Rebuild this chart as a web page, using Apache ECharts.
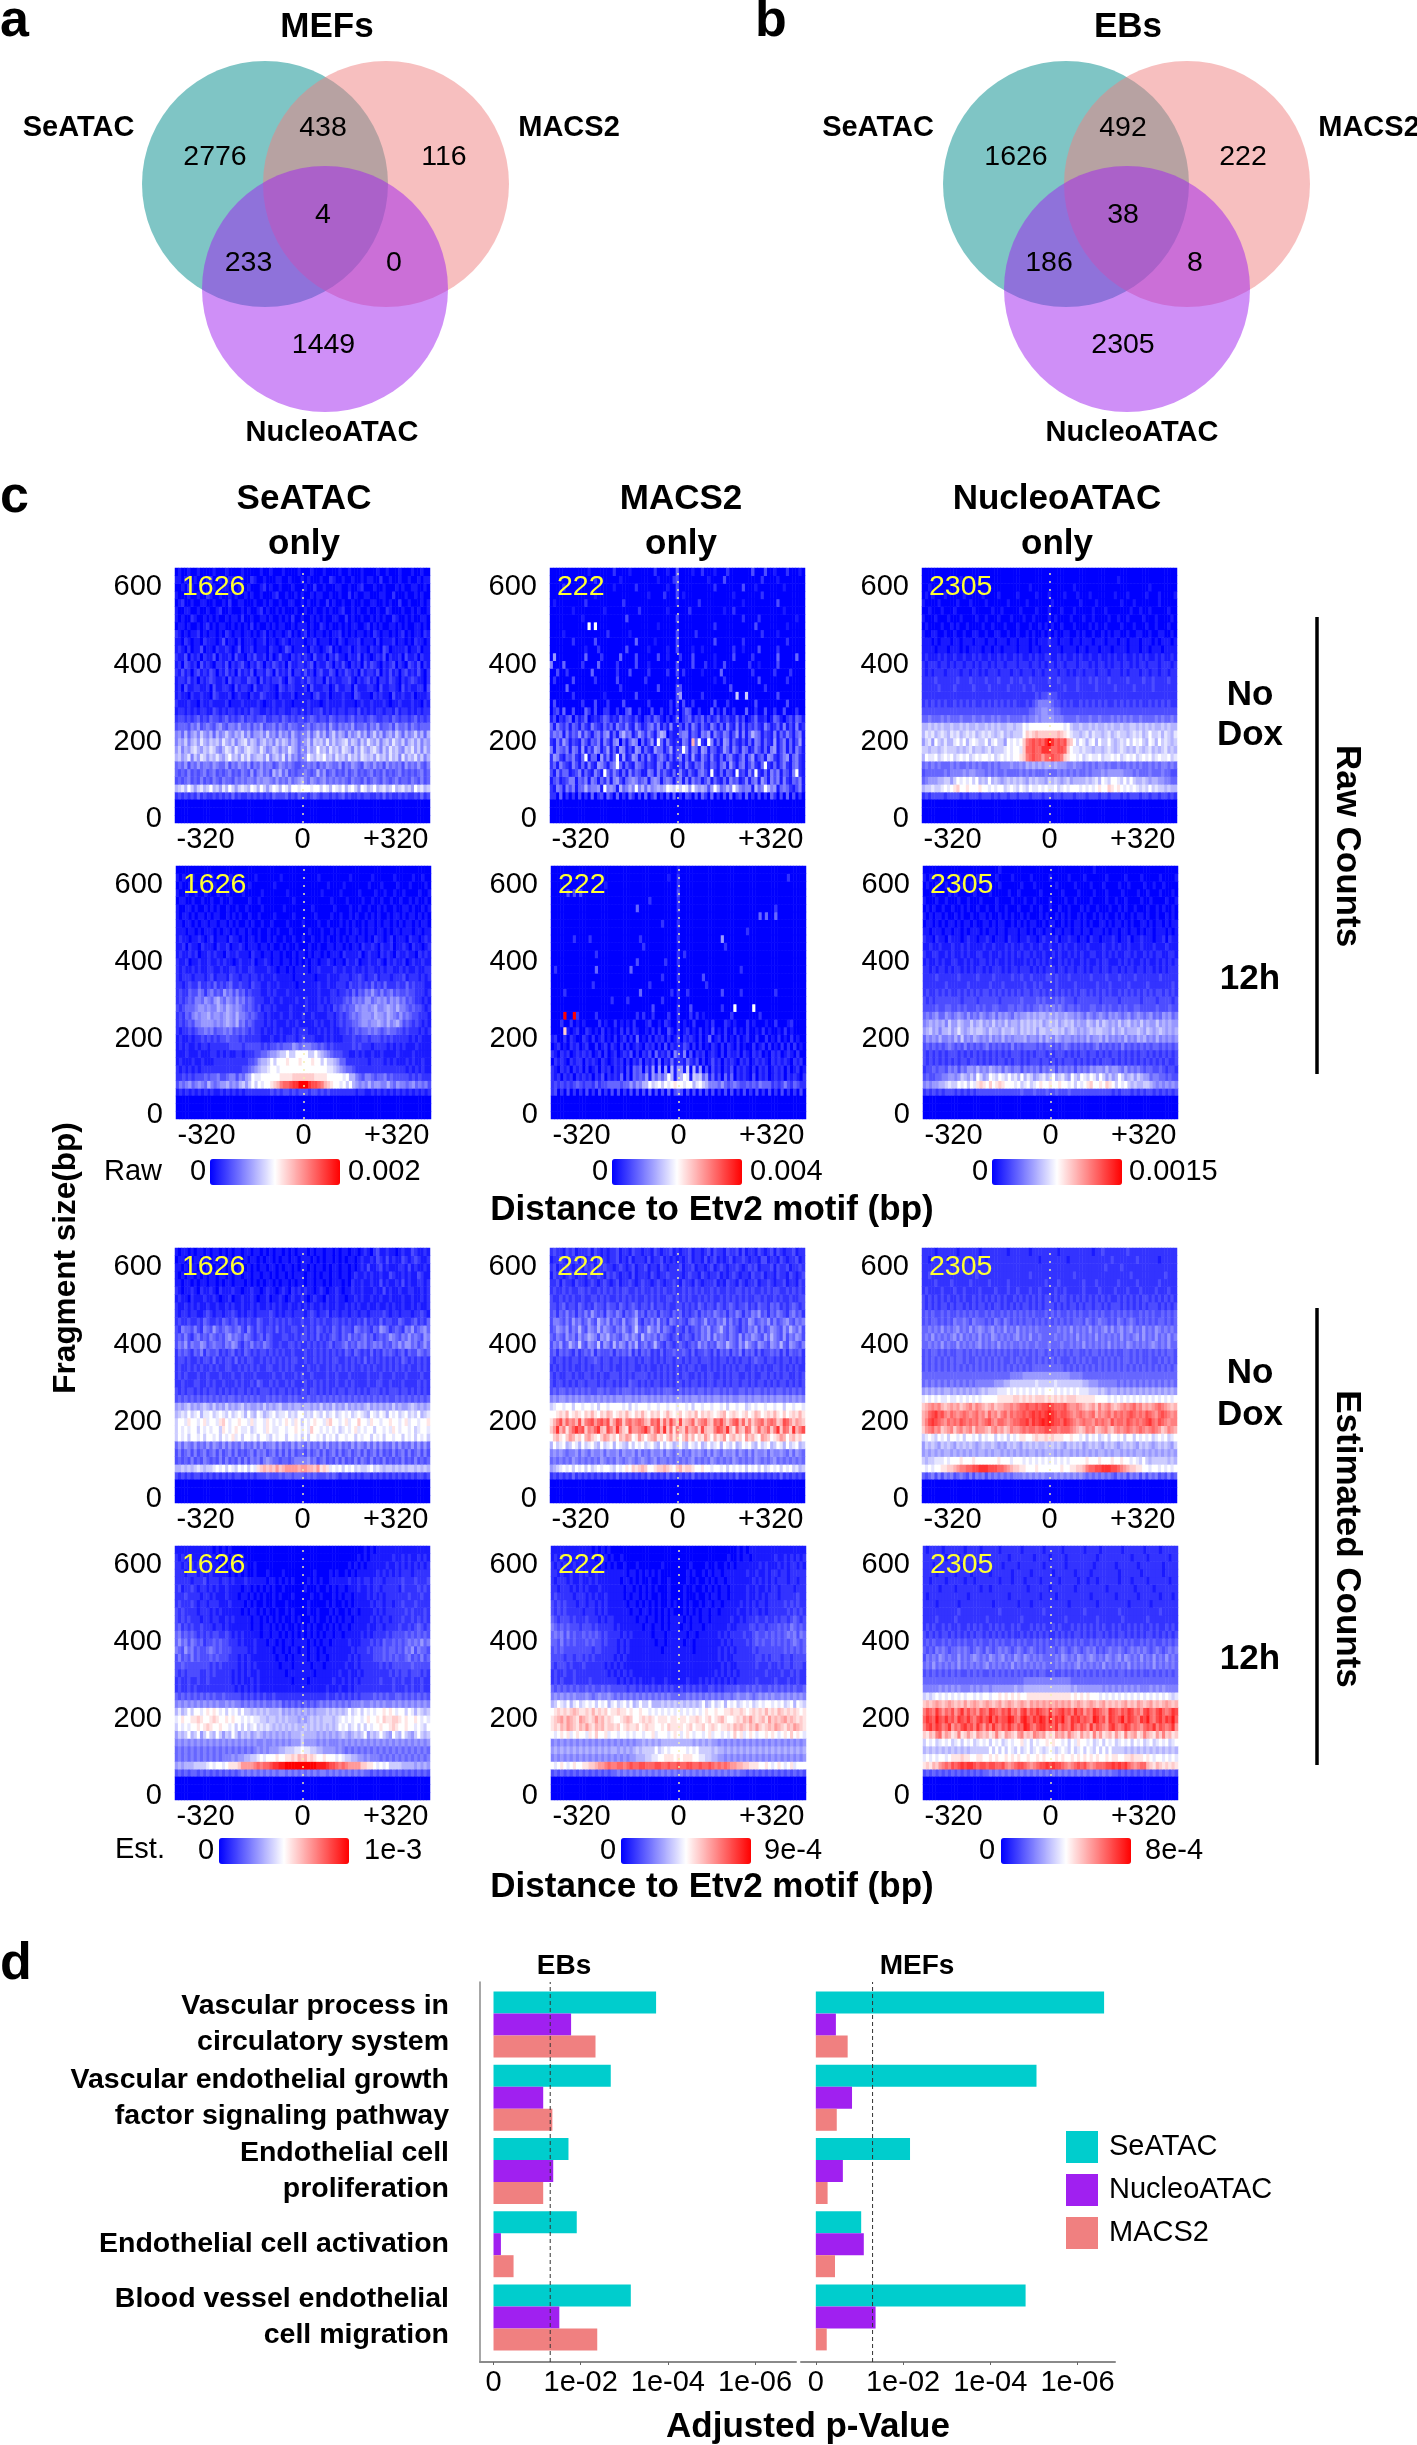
<!DOCTYPE html>
<html><head><meta charset="utf-8"><style>html,body{margin:0;padding:0;background:#fff}#c{width:1417px;height:2445px}</style>
<script src="https://cdn.jsdelivr.net/npm/echarts@6/dist/echarts.min.js"></script></head><body><div id="c"></div>
<script>
// Venn counts
const vennMEFs = {seatac:2776, macs2:116, nucleo:1449, seMacs:438, seNuc:233, macNuc:0, all:4};
const vennEBs  = {seatac:1626, macs2:222, nucleo:2305, seMacs:492, seNuc:186, macNuc:8, all:38};
// Enrichment, -log10 adjusted p
const terms = ['Vascular process in\ncirculatory system','Vascular endothelial growth\nfactor signaling pathway','Endothelial cell\nproliferation','Endothelial cell activation','Blood vessel endothelial\ncell migration'];
const ebsSeATAC = [3.73,2.69,1.72,1.91,3.15];
const ebsNucleoATAC = [1.78,1.14,1.37,0.17,1.51];
const ebsMACS2 = [2.34,1.35,1.14,0.46,2.38];
const mefsSeATAC = [6.61,5.06,2.16,1.04,4.81];
const mefsNucleoATAC = [0.46,0.83,0.62,1.10,1.37];
const mefsMACS2 = [0.73,0.48,0.27,0.44,0.25];
const pTickValues = [0,2,4,6];
const pTickLabels = ['0','1e-02','1e-04','1e-06'];
const pThreshold = 1.301;
// heatmap colour-bar maxima
const rawMax = [0.002,0.004,0.0015];
const estMax = [0.001,0.0009,0.0008];
const rawMaxLabels = ['0.002','0.004','0.0015'];
const estMaxLabels = ['1e-3','9e-4','8e-4'];
const peakCounts = ['1626','222','2305'];
// Heatmap rows, top (640 bp) to 60 bp; 81 bins from -320 to +320; each character is twentieths of the colour-bar maximum (0..k)
const rawNoDoxSeATAC = [
"0100100100 0010001000 0100000100 1000100001 0 0010001000 0100100010 0001001000 1000100100",
"1101001000 1200100110 0100210010 0011001000 1 0100010021 0010010010 1100200100 1001001011",
"0010210010 0010011000 1001000120 1001000100 0 1002001000 1100100120 0010010001 0100110010",
"1000100100 2100100101 0010100100 0120010010 1 0010110010 0100201001 1000110020 0010010100",
"0120010011 0010010200 1100010010 1001001100 1 0100100201 0010010010 0110010100 2001000101",

"1001100100 1001200100 0101001201 0010100010 0 1001001010 0120010100 1001002100 0100101001",
"1010021001 0101001011 0200100110 1001010200 1 0010101001 1002010010 0101010021 0010100110",
"0110100101 2010110010 1010201001 0101100101 1 1010021010 0101011001 2010100110 1010011010",
"2101011201 0110102101 1011010120 1011012010 1 2010110101 1201010110 1021011010 1201011021",
"1102101102 1110130110 2011101120 1101210111 1 0112011101 0210111201 1102011120 1101021101",

"1210201130 1102112101 3011201110 2110132011 1 1021101230 1011201211 0211032011 1120112011",
"2113021202 1130211203 1102131120 2013110212 1 2103112021 3110211302 1012130211 2031120211",
"1203212031 2102213021 2310213202 1321203112 2 1230211320 2131021203 1321021230 2103213021",
"2131202312 1320213120 3121302213 2031213022 1 3120231132 0213212031 2213021312 0231213102",
"1221312021 2321120312 2113220312 1223103211 2 1321220312 1122310212 3120221321 0212321102",

"1203112211 2031122103 1221031122 1103212211 1 2031112201 3112203111 2210311221 0312112203",
"1211021121 1032111201 2110211321 1102111201 1 1102311201 1121103211 1021211031 1211201112",
"2111211021 1211112011 1211112101 1211211011 1 1211101211 1121110121 1211121011 2111211021",
"1221212122 1132121221 2121322112 1212211221 2 1212231212 1221221312 1212212213 1221212122",
"2332323423 2433234232 3423323342 2332432323 3 2343233243 2332342332 3432233243 2332342323",

"3444354634 5435643554 6445354634 4535435443 3 4534545364 3545463445 3546344536 4453543444",
"5647467586 5747568657 6857466758 5647564754 5 5746857468 5764756857 4685746758 6475685747",
"5768578697 6878697685 7896875786 7586875764 5 6858786968 6789687586 9768578697 6857868576",
"6857689768 7986579869 7689876975 6875769764 6 5867a78697 8698758697 6897586978 6587968586",
"7867958698 6879768a78 6979678869 5786958564 5 6a8798a786 9786978698 7869786978 5968796857",

"4546354645 5465446354 6546354645 5346545433 4 4545354654 4635465436 5464536454 5364546435",
"4343534345 3453434534 3543635645 3757463434 4 5434746345 3435345343 4534353434 5343434534",
"3434534353 4354354435 4545546566 5464546456 7 5465456454 5454354435 3454354345 3443543534",
"7897a86897 8a78697a86 8987a97a86 8a97a97aa9 a aa9aa8a97a 98a79a86a9 78a78978a7 89786a8978",
"2323232423 2232323242 3223232323 2433342324 3 3234323323 2342322323 3223242322 3232232423"];
const rawNoDoxMACS2 = [
"0000000000 0010000000 2000010000 0002000100 4 0000100200 0100020000 0003000300 1000200010",
"0000000000 0000200000 0010000000 0000100002 3 0000000001 0000300000 0000002000 0100000000",
"0000200000 0000000000 1000000200 0000000100 3 0000000000 0200000000 3000100000 0001000000",
"0000000000 0000100000 0000000000 0100002000 3 0100000000 0000000100 0000002000 0000000000",
"0100000000 0200000000 0002000000 0000000000 1 0000002000 0000000000 1000000000 0300000000",

"0000000100 0000000100 0000000020 0000000100 0 0002000000 0000100200 0000000000 0001000000",
"0000000000 1000000000 0000300000 0000000000 3 0000000000 0000000000 2000020000 0000000100",
"0000000000 00a0a00000 0000000000 0000100000 1 0000000000 0200000000 0000300000 0000100000",
"0000100000 0000000020 0000010000 0000000000 3 0000020000 0000000000 0000002000 0100000000",
"0000000200 0000300000 0000000400 0001000000 3 0000000000 0300000000 2000000000 0000200000",

"0000000000 0100020000 0000300000 0100000100 3 0000100100 0000000200 1000030000 0200000000",
"0600000000 0400002000 0040000300 0000300100 0 2000300000 0100000300 0002000000 0400000400",
"5000400000 2000040000 0200000300 0100000000 3 0000300020 0100300000 0020010000 0300000000",
"0030020000 0004000000 0200030000 0200000200 3 0200000100 0004000000 0002000000 2000020000",
"0200000300 0000200000 0300000000 2000000000 1 0000000000 0100200000 0000030000 0000200000",

"0000040000 0000000000 0020000000 0000300000 3 3000000000 0000003000 0000000200 0000000000",
"0000000200 0000000100 0000000300 0000000000 3 6000000200 0000000080 0800000000 0300000000",
"0300000000 2000300020 0003000000 0200000020 3 0300200000 0300020000 0000300000 0000300000",
"0230400300 0420300220 0200340020 0030020020 2 0243002000 4020300200 0400200300 2003000200",
"1302134031 2401212431 2142321310 2314310201 4 0234132413 1241231141 3012411201 4310231431",

"4153241431 4215321424 1532521531 2452513151 1 3141531421 5314152151 4132421531 2415131512",
"3545152436 2531452561 4157451364 2531576021 1 4551431546 1532541361 5147541321 5142531451",
"2152641321 5314351531 5604146504 1361a41521 2 1541d4a21a 5141651421 3141541421 6135141361",
"5154351541 6142651361 4165131651 4216441361 3 3a51541651 4312641531 5412531415 6135141531",
"2652143521 4a14406251 4a16126514 1521453141 3 5141621531 5214145213 5146134165 2135614521",

"2415321531 4152165314 5a41421543 1321541521 1 3152143521 4314516314 5135214a21 4135214521",
"3152441235 1421531a42 5314152431 1541524214 1 5214214531 a2141431a2 3152a21415 3514315a21",
"1341235514 3515414251 5631456534 5156514541 4 5151534135 1421415341 2514516415 3515214351",
"2154153514 4745561a56 5174575a57 4756767a98 a 8a96a76763 6a74575a75 4551745a75 6145421351",
"2204020203 0204023042 0402042030 4024020304 0 2032030420 4020304023 0402030204 2030403020"];
const rawNoDoxNucleoATAC = [
"0000000000 0000000000 0000000000 0000000000 0 0000000000 0000000000 0000000000 0000000000",
"0000000000 0010000000 0000000000 0000000000 0 0000000000 0000000000 0100000000 0000000000",
"0010000000 0000000000 0000000000 0000100000 0 0000000100 0000000000 0000000000 0100000000",
"0101000100 0001000001 0000100000 1000001000 1 0000100010 0010000000 1000100000 1000100001",
"1000010000 0100010000 1000000100 0001000000 0 1000000001 0000100000 0010001000 0000100000",

"0010001000 1000001000 0010010000 0100001000 1 0001000100 0001000100 0000010010 0100000100",
"1000100010 0010000100 1000100010 0010010000 1 0100001000 1001000010 0100100001 0001000010",
"0100001001 0100100001 0010001000 1000100101 0 1001000100 0010100100 0010001000 1001000100",
"1001100100 1001001100 1001100100 1001010010 1 0100110010 1001001010 1100100110 0100110010",
"1110101110 1101110111 0110111011 0111010111 2 1101110110 1110111011 1011011101 1101011101",

"1111011101 1101011110 1101101111 0111011011 1 1110111101 1011101110 1111011101 1011101111",
"1211121211 2112112121 1211212112 1211212112 2 1121211212 1121121121 2112112121 2112121121",
"2122212212 1221221212 2121221222 1222122121 2 2122122212 2212122121 2212212122 1222122212",
"2121222122 2212212212 1222122212 2122212212 2 2212212122 1222122212 2212122212 2122122122",
"2222322222 2322232222 3222322232 2322322222 3 2232222232 2232322232 2222322223 2232222322",

"2222232222 3222223222 2322222322 2232232222 2 2222322232 2222322222 3222223222 2232222222",
"2222222222 2222222222 2222222222 2222223233 4 3322222222 2222222222 2222222222 2222222222",
"2323232322 3232323223 2323232323 2223234555 5 4332323223 2323232322 3232323232 2323232322",
"3333333333 3333333333 3333333333 3333445566 5 5443333333 3333333333 3333333333 3333333333",
"4454445454 4454445445 4454544544 4454556566 6 6555444454 4454454445 4545454454 4445454454",

"7787878778 7787877877 8787877887 88a9aaaaaa a aaaa9a8778 7787877878 7787788787 8787787877",
"7989789879 8978989789 8987897878 88acbcdccc c ccdcba9887 8979887897 8988789897 8a88979879",
"6896a87977 9a8a79a988 a79a886a9a 9acfghghgi k ighghdca8a 979a7a88a8 7898a8a9a8 7a97a89878",
"8878878988 8787897887 8978889a9a a9cgghggii i gghhgca998 9887887898 7898787987 8978789787",
"7a99a89a9a 89a9a89a9a a9a89a9a9a abcfghggeg g hggfcbaa9a 89a99a899a 9a89a9a89a 9a89a99a89",

"4545454445 4544545454 4545455565 5657676767 7 6766655655 4545455454 4544545454 4545455454",
"3444444545 5556566555 4545445444 4545454445 4 4454545454 4545556566 6665554544 4544454433",
"4566677886 8a9a9a8a78 7a78767878 7876878776 8 7876786777 787897a98a a98a8a8778 7677665544",
"7889889a9a bcaabaaaba a9a9aa89a9 8a98a99a9a 9 9a89a9aaa9 a9a9abaacb aba9a9a989 8a89887877",
"2323333233 3323233323 3323233233 2333233323 3 2332333233 3233323323 3323233323 3233233232"];
const raw12hSeATAC = [
"0000000000 0000000000 0000000000 0000000000 0 0000000000 0000000000 0000000000 0000000000",
"1010010000 0100000100 0000010000 0001000000 0 0000100000 0000100000 0100000010 0000100100",
"0100100010 0010000010 0001000000 0100000000 0 0000000100 0010000000 1000100001 0001000010",
"1001001001 0001001000 0100000100 0000010000 0 0000010000 0100000100 0010010010 0100001001",
"0110010010 0100100100 0001001000 0000000100 0 0000000010 0001000010 0100100100 1001010010",

"1001101001 0101001001 0010000100 0000100000 0 0010000001 0000100100 1001010010 0110100101",
"1011010110 1011001010 1001001000 0100000100 0 0001000010 0100101001 0101001011 0101101010",
"1101101011 0110110101 0010100100 1000010000 1 0000100100 0101010010 1101011010 1011010110",
"1110110101 1101011010 1101001001 0010001000 0 0100010010 1001011010 1101101011 0111011011",
"1211011210 1201110211 0101101001 0100100100 1 0010010100 1010110110 1021101201 1102110121",

"1120211021 1102112011 2101110110 1001010010 0 0100100110 1101011021 1210211201 1210211012",
"1211212011 2121102112 1110211011 0110100101 1 0101101011 1021111201 2110212102 1121102121",
"2112011211 2112121101 2111201121 0110110101 0 1011011210 1102112011 2112102121 1201211211",
"2121121211 2211211221 2112211112 1101101011 1 1011211112 1121121121 2211212211 2121121122",
"2122212221 2312221322 1221221211 1211111011 1 1110111211 1222122321 2231222122 2312221212",

"2212322422 3242323422 3221322112 1121111101 1 1111211211 2221322323 2423242223 2242322211",
"2322433542 4534364535 3423222112 1211121111 1 1111211122 1223242435 4643534534 3343322212",
"2323435546 5467546546 4534322211 2112111121 1 2111212122 2234354546 6456564656 4534322121",
"3234445665 6557657656 5434323122 1211112111 1 2111221213 2343446566 5675567657 5543433212",
"2324356566 7566567657 5543432212 1112112111 2 1121111221 2323454566 6576657654 6454332221",

"2323435566 6656567657 4534322212 1211121121 1 1112121121 2323344566 5667657567 5343232121",
"2122323445 4534454534 3432322121 1212111212 2 2111212121 1223234344 5454345443 3232221212",
"1211212232 3232334333 2322222111 2112122212 3 2221112121 1122232233 2333232322 2221212111",
"1212112122 1222222333 3233333232 3343444654 5 5544343232 2222232322 2122221212 1211121111",
"1112111211 1221212112 2122233445 66788a88aa a a88a876543 3322112121 1211211112 1111211111",

"1211121121 1122222222 2223346778 a8aaabaaab a aabaa8a887 6442222222 1222212121 1121211211",
"2121212122 2222222222 2334567889 aa9aaaaaaa a aaaaaaa998 7654432222 2222222222 2212121211",
"2232323334 3445334553 5467a99aaa aaabbbbccc c cccbbbbaaa aa9a775435 5434453433 3332323222",
"3545645654 7545667565 7868a8a9aa bcdfgghiik k kihhgfdcba a9a8a76565 7566557546 5545645453",
"1212121212 1211212121 2122222222 3232332323 3 3233232322 2222221221 1212121212 1212121212"];
const raw12hMACS2 = [
"0000000000 0000000000 0000000000 0000000000 1 0000000000 0000000000 0000000000 0000000000",
"0000000000 0000000000 0000000000 0000000100 2 0000000000 0000000000 0000000000 0000200000",
"0000000000 0000000100 0000000000 0000000000 2 0000000000 0000000000 0000000000 0000000000",
"0000030303 0000000000 0000000000 0000000000 3 0000000000 0000000000 0000000000 0000000000",
"0000000000 0000000000 0000000000 0200000000 2 0000000000 0000000000 0000000000 0000000000",

"0000000000 0000000000 0000000400 0000000000 2 0000000000 0000000000 0000000000 2000000000",
"0000000000 0000000000 0000000000 0000000000 1 0000000000 0000000000 0000040400 4000000000",
"0000000000 0000000000 0000000000 0000020000 2 0000000000 0000000000 0000000000 0000000000",
"0000000000 0000000000 0000000000 0000000000 1 0000000000 0000000000 0200000000 0000000000",
"0000000200 0020000000 0000000020 0000000000 2 0000000000 0006000000 0000000000 0000000000",

"0000000000 0000000000 0000000002 0000000000 1 0000000000 0000200000 0000000000 0000000000",
"0000000000 0000200000 0000000000 0000000000 2 0200000000 0000000000 0000000000 0000000000",
"0000000000 0000000000 0000000300 0000002000 2 0000000000 0000000000 0000000000 0000000000",
"0200000000 0000400000 0000040000 0000000000 1 0000000000 0000000002 0000000000 0000000000",
"0000000000 0000000000 0000000000 0000020000 2 0000000300 0000000000 0000000000 0000000000",

"0000000000 0002000000 0000000000 0200000000 1 0000000020 0000000000 0000000000 0000000000",
"0000200000 0000000000 0000000040 0000000020 2 0020000000 0003000002 0000000000 2000000000",
"0000000000 0000000002 0000200000 0000020000 1 0000000000 0000000000 0000000000 0000000000",
"0000000000 0000000000 0000000000 0030000000 2 0003000000 0002000a00 000a000000 0000000000",
"0000k00k20 0000200000 0000000202 0020000200 2 0002020100 0000002000 0000020000 0000000000",

"0002002010 1000020100 2010102000 1200102100 2 0100200010 2000210100 0201000100 2000120000",
"0000c10120 0210102010 1020202100 1020200310 2 0120102010 3010200201 0200102010 0102010000",
"1200202100 2102012010 2012020401 0202120201 3 0212102014 0120201020 1200200201 0201020100",
"0120102120 1200201202 1020201210 2120203021 2 1320202010 2102021020 1002012020 1020202010",
"2102120121 2120120201 2012130202 1304121305 3 1503021201 2102021120 2102120102 1201210200",

"0212102122 0212102101 2120202130 2130402141 2 2142130201 3120212102 1201212102 1212102120",
"2102120212 0201202120 2120304340 4160606071 6 6180716030 3120213021 2102021201 2120201201",
"2120212021 2120213021 2140304343 6164646a71 6 7a91878461 4130414021 2103021201 2120212102",
"2323232343 2332423344 4434464657 7a89a8a9ab a a9aa79a875 5546434543 3434354442 3235324322",
"2302030202 0302030203 0302030303 0403030403 4 3030303030 3020303020 3020302030 2030202030"];
const raw12hNucleoATAC = [
"0000000000 0000000000 0000100000 0000000000 0 0000000000 0001000000 0000000000 0000000000",
"1010010000 0100000100 0001000010 0000100000 1 0000010000 1000000100 0001000010 0000100001",
"0100100100 0010010000 1000100000 0100010000 0 0100000100 0010001000 0100100001 0010010000",
"0001000010 1000001000 0100000100 1000000100 0 0001000010 0001000100 0010000100 1000100010",
"1000100100 0100100010 0001000010 0010010000 1 0000100100 0010000100 1001000010 0100001001",

"0101001001 0010100100 1001001000 1000100100 1 0010010001 0100100010 0101001000 1001010010",
"1010110100 1010010011 0100101010 0101000101 0 0101010010 1001010100 1010010110 1001001010",
"0110101011 0101101001 1010110010 1010110010 1 1001010110 1010011010 1101010011 0101101011",
"1101110110 1101011101 0110110111 0110101101 1 0110110110 1101110101 1011011010 1101110101",
"2110211021 1101211011 2101110211 0112110121 1 1201121101 1021101112 1011201121 1101120211",

"1121121112 1121211112 1121112121 1211211211 2 1121211211 1211112112 1211211121 1121112111",
"2112211212 1121211221 1211212121 2122121121 1 2121121212 1122112121 2112212112 1212211221",
"1211212112 2112121122 1212112121 1121212121 2 1121212112 1211212211 1212121121 2112121212",
"2212122121 2212121221 2122212122 1222121212 2 2122122122 1212212212 2121221221 2212121222",
"2222322222 2322222322 2232222232 2322322223 3 2322232222 2232222322 2322223222 2222322222",

"2222222322 2222322222 2322232222 2232232322 2 2322222322 2222322232 2222322222 3222222232",
"2322323232 2323232323 3232323232 3233233232 3 2323232323 3232323232 2323232323 2323323232",
"3232333333 3323333233 3333233333 3433334343 3 3434333233 3333323333 3233333323 3332333323",
"3333433443 3434333434 3344333443 4434344545 4 5454344343 3344334343 3434334433 3334333433",
"4545644654 5654645465 4564656546 5667676776 7 6766766565 4654565465 6545645654 5645465645",

"5676767586 6876686786 7686768677 6878787867 8 7867878676 6876868767 6867867686 7668676766",
"6786757786 7976787887 6877687787 6878786887 7 8878678767 6787887768 6786777876 8767876767",
"4656575565 7585657656 5756575656 6675665757 6 5765665656 5756675756 5657565767 5657565656",
"3434343454 3435343434 5343434353 4344443434 4 3434543434 3434534343 4353434343 4344343434",
"3232323233 3232323232 3232323233 3232323332 3 2333232323 3233232323 3232323233 2323232323",

"3232323232 3233233232 3232332323 3232333233 2 3232333232 3232323332 3232323232 3232323223",
"2334344354 5354665756 5765646545 5354545354 5 5354545354 5465665756 6546454543 4433432332",
"3433445566 5687686a86 7a98a98a89 7a79867897 8 a78976a87a 98a97a8686 7a86786876 6455443433",
"5656677898 8a9a8a9bcb acabcbaaa9 a89a89abaa b aabaa9a8a9 abcaabacba 8a9a878778 8765656565",
"2323232333 2323232333 3333333333 3433343334 3 3433343333 3333333332 3233323232 3323232323"];
const estNoDoxSeATAC = [
"1011010110 1011010101 1011011010 1011010101 1 1010110110 1011011012 1023112110 1211321121",
"0110101101 1010110101 1010110101 1010110110 1 1101010110 1010110121 1213213121 1321232112",
"1101011010 1101010110 1101010110 1101011010 1 1010110101 1011010121 3112312111 2213121121",
"1010110101 0110110101 1011011011 0101101011 1 0110101101 1011012112 1211211321 1212113211",
"1101101011 0110101101 1101010101 1010110101 1 0110110101 1101021121 1211312112 1312112212",

"2101121021 1210211121 1011211012 1101210212 1 2110121011 2101121121 1121131211 2112211212",
"1211021112 1121011201 1211210112 0112101211 2 1012110211 2110112121 1211211211 1211211212",
"2112121211 2112112121 1211212112 1212112112 1 2121121211 2112121211 2112112121 1211212112",
"2122122112 3212212232 1212212222 3212122122 2 1232122312 2122122122 1222232122 1222122321",
"2322322324 3223243234 2323224322 3232323222 3 2232323223 3232322324 2322423322 4322342324",

"3254435325 4364345434 5325324323 3242322332 2 3232432324 3243325434 3243654234 3254634564",
"3435324534 3543435645 4354323424 3222332232 3 3232423234 3243534345 3423434654 3546454365",
"3546354465 3454435465 3243534354 3223223323 2 2323232342 3345343545 3454534354 6466453464",
"2434324352 4334232342 3243232332 3232322322 2 3223232323 2324324323 2423243432 3424335434",
"2332322323 3242323324 2323322323 2323232332 2 3223232323 3223232324 2323232323 2432323232",

"2322323232 2323223322 3232323223 3223232322 2 2322322323 2323232232 3232232323 2323223232",
"2323222322 3222322232 2322232222 2322322232 3 2232222322 3222322222 3222322232 2232222322",
"2232223322 3232232223 2322324322 3232232322 2 3223232322 3223232222 3223322322 2322223232",
"3232332323 2332323232 3323232333 2323323232 3 3233232323 2332332323 2333232333 2332323232",
"3434343434 3434343443 4343434334 3434334343 3 3433434343 4343434343 4343434334 3434343434",

"6767867678 7686768676 7867667686 7678667677 6 7767686768 6768676767 8676767686 7667876767",
"7898a89a79 9a89a98a89 a97a87a978 9a899a898a a 898a98a89a 89a9a89a98 7a98a97a9a 89a898a789",
"8aa9baa9ab 9aa9bca9aa baa9b9aa9b a9a9aba9ba 8 a9abaa9bca a9ab9aacaa 9baa9aabaa 9ab9aa9aab",
"8a9a9aa8a9 a9aa8ba9ab a99a89aa9b a99aa9aaba 9 a9caa9a9a9 a89a9ab9a9 aa8aa9a9ba 9aa9a89aa9",
"8a9a8aa9a8 aa9a8a9ab9 a8aa9a8aa9 8a9aa8aa9a 8 a8aa9a8a9a 8aa9aa8a9a a8a9a8aa9a a8a9a8a9a8",

"4646546454 6465464645 4645464645 5646454646 5 4645464645 4645464654 6464645464 6454646464",
"3534535345 3453534535 3434535453 4535353534 4 3534535345 3534534535 3453534353 4535345353",
"3434353435 4343535343 5353545356 5443443455 5 5645345343 5353435354 3534353434 3534353434",
"7787878987 889a9a8a98 a9a8a9bcdc dcecdeeeed e eddcebcb9a 9a8a9a8988 9a89878878 7878878787",
"3232323323 2323232323 3232323334 3334344344 4 3434333434 3233232323 3232323232 3232323323"];
const estNoDoxMACS2 = [
"2322132312 2231321212 2312213221 2213212231 2 1223122123 1322132231 3122132123 1321223122",
"1223212231 3122131212 2312131222 1312231212 1 2123122131 2312123122 3212213312 2132122312",
"2312232122 1323122322 1232123122 3122132122 2 3122312212 3123212232 1232312223 1322312232",
"1322123212 2132232132 3212213122 2132122322 2 2123221321 2231212321 2213223122 1322132123",
"2231322132 2123212321 2312232123 2212321223 2 1322132122 2312132213 2122312232 1223122132",

"2322323223 3232232323 2323322323 2232323223 2 2323232322 3232232233 2323223232 3322323232",
"3223232322 3223323232 2323232322 3232322332 3 2323223232 3223232323 2322332322 3232232233",
"3323423324 3232433243 3243234323 3242332322 3 3232324323 3243234323 3423243324 3423234323",
"3424353424 3536434254 3542434634 2434243324 3 4232342434 3543424354 2435463424 3543245342",
"3554353645 3464375463 5436345732 4353634254 3 4324543463 4354635342 4365345463 5345643545",

"3465463547 4365474654 3546435843 4754635432 4 3242343546 3457435432 4354635346 5436475463",
"4354364536 4576536574 5435646537 4545354323 4 2343243546 3645435436 3546543647 5436354653",
"3546347548 4365483653 7465364734 5347432432 3 4323436453 4365475436 4754365436 5474365435",
"3424343242 3435243334 2434352424 3423242334 3 3432423343 2424342435 2434242334 3424243342",
"3233232332 3233432332 3323233232 3323232332 3 3232332333 2323323232 3323433233 2323323232",

"2323232322 3232332332 3223233223 2322323232 3 2323323223 2323232323 3223232322 3323232322",
"3232233232 2332323223 3323232333 3232323232 3 2332232323 3223232332 2323223323 2323322323",
"3233232323 3233323233 2323243323 2323323232 3 3232332323 3233232332 3323233232 3233232323",
"3434434343 4343344343 3434443434 3343434443 3 4343434434 3443434334 4343443434 3443434343",
"5656656565 6556565656 5665665656 6565656565 6 6565665656 5665656556 6565665656 5665656565",

"89aa9aa8aa 9aa9a8aa9a aaa9a8a9aa a9aa9aa9aa 9 aa9a8aa9aa 9aa9a8aa9a a89a9aa9aa 9aa8aa9aa9",
"aabcbdabcb acbdbacbdc abcbdbacbd bacbcabdba b cabcbdacbc babcdabcba bcabdcabcb dbacabcbdb",
"bdfhdgefdh cfgheghfhc ehgcfgefgf dcgfhcgdhe c hcdegcefgd cgfheceghd gcfcefgdfg fcdhgecedc",
"ceidfbegig hcfegidchf diecbheefg ifcfhdicgb f dcgdefchdc cfhgeidbgd cgfbdgdegc ficgfcidfh",
"acdbacedbc adecbacedb cadcedabec acdebcaceb d acebdacbec adbceacdbc aecdbaedca bcedacdbca",

"7a89a78a97 a89a87a89a 7a987a8a9a 89a87a8a97 8 a87a98a78a 89a7a98a78 a9a87a89a7 8a97a89a78",
"5656545564 6546556465 5646556464 5465564654 5 6454656546 4654655646 5464655646 5565464654",
"4545454654 5454546545 4654565456 5456455454 5 4545645454 6545454654 5454654545 6454545454",
"6789a9a8a9 a8a89a9aa9 8a9abacbcd caabccdcba c dbccbaabaa 9aa9a8a9a9 a8a9a8a89a 9a8a9a8978",
"2323232423 2323232323 2423232323 2423232423 2 3232423232 3232323242 3232323232 3242323232"];
const estNoDoxNucleoATAC = [
"2222122222 2122222212 2222222122 2222122222 2 2212222222 2221223222 2222322222 2222222222",
"2212222212 2222212222 1222222222 2222222122 2 2222212222 2222222223 2222222322 2222122222",
"2222222222 2222222222 2222222222 2222222222 2 2222222222 2222222322 2232222222 2222222222",
"2232222222 2222222322 2222222222 2222322222 2 2222222322 2222222222 2222232222 2222223222",
"2222322223 2222232222 2322222322 2222222223 2 2232222222 3222322222 2322222322 2222322222",

"2322223222 3223222232 2223222322 3222322322 2 2322322222 3222232222 3222322232 2223222322",
"3232323232 2323223232 3232323223 2323232323 3 2323323232 3232323232 2323232323 3232323232",
"3232323323 2332323233 2323323232 3233232323 3 3232323323 2332332323 3323232323 2333232323",
"3434334343 3434343433 4343343434 3434343334 3 4343343434 3343434334 3434343343 4343343434",
"3434434343 5445435444 3435435434 3434434343 4 3434343444 3543454434 3543454343 4343443434",

"4454546454 5645464565 4564546454 6454545444 4 4454546454 5464545646 4564564546 4546545454",
"4546454545 6464545464 5465454545 6454644544 4 4544545464 5454645454 5464545646 4546454645",
"4454546454 4645454564 5454645454 4545445444 5 4445445454 6454545464 5454654545 4565454644",
"3434434343 3443434343 4343434343 3434343443 4 3434343443 3434434343 4334434343 3434343443",
"3434343434 3443433434 3434343343 4343343434 3 4343334343 4343343434 3434434343 3433434343",

"3434343434 3434343434 3434343434 3434344444 4 4444343434 3434343434 3434343434 3434343434",
"4444444444 4444444444 4444444455 5566666666 6 6666665555 4444444444 4444444444 4444444444",
"4545454545 4545454555 5556667788 8888889888 8 8988888888 7766655555 5454545454 5454545454",
"6767676776 7676767678 7888999a9a 9a9a9a9a9a a a9a9a9a9a9 9988878767 7676767676 7676767676",
"9a9a9a99a9 9a9a9a9a9a aaaabbbbbc cbcbcbcccb c bcbcbcccbb bbbbaaaa9a 9a9a9a9a9a 9a9a9a9a9a",

"cdefefdcde decdefdfed cdecddeefe fgghgghghh i hggghfeefe dcdecfdefd cdefefgefd edefgfedcd",
"deghighfeg fefgfefgef dgefdfgegf gghghihihi j ihghhgfefg fefgdfefge gfgfghgfgf hgfeghgfef",
"dfhihgfegf gfhgfgfgef ghfeggfefg ghhigihiji j ihhgihgfef gffegfgfeh fggfhgfgfg higfhgfeff",
"cefgefcdef cefdefcfee dcefdecdfe efgfggfggh h ggfgggfedc dfefcdefdc efefgfefgf efgfecdfed",
"89a98a9a8a a9a8aa9a8a 9aa8a9a8a9 abbaabcbbc b cbbbaabaa9 a8a9a89a8a a9a8aa8a9a 9a89a9a89a",

"6878768787 6878787678 7787676878 7687878778 7 8787687878 6787876878 7678787687 8767878768",
"6767676776 7676767677 6767767676 7676776767 7 7676776767 6767677676 7767676776 7676767676",
"8788999a9a aabaaabaaa aaaabaaa9a aa9a9a9a9a 9 a9a9a9aaaa abaaabaaab aabaa9a98a 8788888787",
"a9a9aabbcc deffgghhii ihhhggfedc cbbaaabaaa a aaabaabbcc dfgghhiiih hgfedccbba a9aa9a9a9a",
"4345353545 3454353545 3545454545 5565656565 5 5656565656 5454545454 3545354535 3545343534"];
const est12hSeATAC = [
"1111111111 1101010100 0000000000 0000000000 0 0000000000 0000000001 0101111111 1111111111",
"2121211111 1110101010 0100000000 0000000000 0 0000000000 0000000101 0111111121 1212112121",
"2212121211 1111010101 0010010000 0000000000 0 0000000000 0000101010 1111112112 1212121212",
"2221222121 1211111010 1010010001 0000100000 0 0001000010 1001010111 1112121212 1222122222",
"2222212223 1222122121 1121111110 1101010100 0 0101010011 1111211212 2122212222 2322232223",

"2312232122 1212112111 1011010101 0100100000 0 1000100101 0110111211 2122122222 1322223232",
"2223222212 2121112111 0110101010 0101000100 0 0010010001 0101101111 2121212222 2223222322",
"2322232122 1222111211 1101010010 0100010000 0 0100000101 0010101111 1212212212 2322232222",
"3232222122 2121211111 1010110101 0010010100 0 0100100010 1001011011 1121212222 2232322232",
"3232322212 2122112121 1111011010 1010100101 0 0010100101 0101101111 1212122122 2322323232",

"3423232232 2212212111 1111011011 0101010010 1 0101001010 1011011111 2112212222 3223234323",
"4534343232 3233223212 1211111011 0110101010 1 0101010110 1101111121 2122223233 3343434343",
"4645354342 3343433222 1211121110 1101011011 1 1010101101 1111211122 2323243343 4345454645",
"5436453433 4543433322 2221121111 1011010110 1 1011010111 1111121222 3233343443 4354635443",
"3534353433 3434333222 1212111111 1101101011 1 1011011011 1111212122 2233343434 3345343534",

"3343333333 3232322222 1212121111 1110111011 1 1101110111 1112112122 2222323233 3333433333",
"3232333322 3232222212 1212112111 1111101111 1 1110111111 1211211212 2222222323 2332333232",
"2322322322 3222222212 1211212111 1111111011 1 1011111112 1121212122 2222322232 2322322322",
"2322323222 2222222221 2121212111 1111111111 1 1111111211 1211212222 2222222232 2232322322",
"4343434343 4343343333 3232323232 2322222222 2 2222222322 3232323233 3343434334 4343434343",

"5656565656 5656556565 5454545454 4545343434 3 4343454545 4545455565 5656565565 6565656565",
"7978a8aa9a baba9a8a9a 8a88787878 7778676767 6 7676777878 7878a89a8a 9a9aababa9 aa8a979878",
"9abaabbcba abcbaababa a9a9a99887 8878787776 7 6787878887 89a9a9aa9a baabacbbcc babaaba9a9",
"8a9a9aabab cbaabaa9a8 a8a89a8989 8787878787 7 8787878787 8a9a89a8a8 a9aabaabcb aabaa9a98a",
"6878a78a68 a87a8687a8 6878678767 6767676777 8 7777676767 678767878a 6878a876a8 7a8768a878",

"5656565656 5656565656 5656565565 5656565666 8 6666565655 5656565656 5656565656 5656565656",
"4545454545 4545454545 4545456565 6667788899 a 9988776666 5654545454 5454545454 5454545454",
"4545454545 4545455565 6677889a9a aabaabbcbd c dbcbaabaaa 9a98877665 6555454545 4545454545",
"6767778888 9a9aa9abbb ceeeefgfgg hiijjkkkkk k kkkkjjjihh gfgfeeeecc bba9a9a888 8777767676",
"3434344343 4343434343 4545454545 4545545454 5 4545455454 5454545454 4343434343 4343434343"];
const est12hMACS2 = [
"1111111111 1110101010 0000000000 0000000000 0 0000000000 0000000010 1011111111 1111111111",
"1212111111 1111010101 0010000000 0000000000 0 0000000000 0000010010 1101111111 2112121212",
"2121211211 1111101010 1001000100 0000010000 0 0001000010 0100101011 1111121211 1212122121",
"2212112112 1211211111 1111011010 1010100000 0 0010100101 0110111111 1211211212 2122122222",
"2122212112 1121211111 1101101010 0100100100 0 0010010010 1011011111 1112121212 1222122122",

"2212221212 1211121111 1110110101 0101000100 0 0100100101 0101101111 1211211212 2122221222",
"2322222122 2121211211 1110101101 0100100100 0 0100010010 1101101111 1211212122 2122222322",
"3232322212 2122121211 1111011010 1010100101 0 0101001011 0110111112 1212122122 2223232322",
"3232322222 1222121211 1111101101 1010101010 0 0101010110 1101111121 1212212122 2222323232",
"4323332322 2322212122 1111111011 0110101011 1 1010110110 1111112112 1222322322 3233234323",

"5434343332 3332322222 1211111110 1101101011 1 0110111011 1111121122 2233233233 3434354343",
"4545353433 4343432322 2212121111 1101110111 1 1101101111 1121212222 3223433434 3434545354",
"4435343433 3434332322 2121211111 1110110111 1 1011011111 1112121222 2323434334 3434345434",
"3434333333 3332332222 2121211111 1111101111 1 1111011111 1121212122 2223233333 3334343434",
"3333233233 2323222222 1212111111 1111111111 1 1111111111 1121211222 2222332323 3323323333",

"3233323222 3222222121 2121111111 1111111111 1 1111111111 1112121122 2222322232 2323323332",
"2322322322 2222222212 1212121111 1111111111 1 1111111111 1212121212 2222222322 2232232322",
"2323222322 2232222222 2121212121 1121112111 1 1121112121 2121212122 2222322222 3222322322",
"4343434343 3434334343 3333233232 3232323232 2 3232323223 3232333343 3434343343 4343434334",
"5656565655 5654565565 4545454545 4545454544 4 4454545454 5454554565 5654565656 5565656565",

"78a98a79a8 9a9a8a9a79 a89a8a78a8 8a77787878 7 8787878a78 a89a7a9a89 a9a89a9aa9 a9a89a7a98",
"abcbcbcdcb bcbdbcbcab bcbbabaaba a9a9a9a9a9 a 9a9a9a9aba abaabbcbbc babcbcbdbc bdcbcbcbab",
"bcdecedcbe dcbcecdbcb aabcdcaabc bcbabbbabb a bbabbcbabc abcdbaabcb dcecbcdbec dcdecdcbcb",
"bcbdcedcbd cecbdcdbcc bcabcbbcab cbbaabacbb b babcabbcab cbabbcbdcd cbdcecbcdc edcbdcedcb",
"a9abab9aba a9bacaab9a a9aa9a9aa9 aab9aaa9ab a 9aba9aa9ab 9aa9a9acab 9aba9aabab a9abacaba9",

"5656565656 5656565656 5656565667 6767677777 7 7777676767 6656565656 5656565656 5656565656",
"6767676767 6767676767 7676767878 888a89a9aa a aa9a9a8888 7877676767 6767676767 6767676767",
"5656565656 5656565656 5656566777 8899aabbba b abbbaa9988 7766565656 5656565656 5656565656",
"a9aba9abaa bbccdeefgf fggfghgghh ggghhgghgg h gghhgghggh gfgfgfeedd ccbbbaaba9 aba9ab9aaa",
"3434343434 3434343434 4545454545 4545454545 4 5454545454 5454545454 4343434343 4343434343"];
const est12hNucleoATAC = [
"2122221222 2221222212 2222122222 2122222212 2 2221222222 1222212222 2212222221 2222122222",
"2222222122 2122222222 1222222122 2222212222 1 2222122222 2222122222 2222212222 1222222122",
"2221222222 2212222122 2222212222 1222222212 2 2222122222 2221222222 1222222122 2222212222",
"2222122222 1222212222 2122222212 2222122222 2 1222222122 2212222222 2122222212 2222212222",
"2212222122 2221221222 2222122212 2212222122 2 2212222212 2122122222 2122212222 1222222122",

"2222212222 1222222212 2122222222 2221222222 1 2222222122 2222222122 2222221222 2212222222",
"2122222222 2222122222 2222222122 2222222122 2 2122222222 2212222222 1222222122 2222122212",
"2222122222 2122222222 2212222222 1222122222 2 2222212222 2222122222 2222122222 2122222222",
"2222222222 2322222222 2222322222 2222222232 2 2222222222 3222222222 2322222222 2222322222",
"2222322222 3222222222 3222222222 2322222222 2 2222322222 2222322222 2232222222 3222222222",

"2323223232 2322323232 2323232232 3222323232 2 3232223232 3232323223 2322323232 2323223232",
"3232323323 2323232332 3232323232 2323232323 2 2323232332 3232332323 2332323232 3323232323",
"3434334343 3434334343 3434343343 4343343434 3 3434343434 3343434334 3434343343 4343343434",
"4343545434 4545434543 5434545434 5434543434 4 4345434543 4545343454 4543454545 4345434545",
"3545465454 4645456545 4654564546 5465454544 4 4546545465 4565454654 5646545464 5464546454",

"4546454545 4645454545 6454545464 5454545454 4 4545454564 5454546454 5454645454 5464545454",
"3434343434 3433434343 3434343434 3434343443 3 4334343434 3434343434 3443434343 3434343434",
"4444444444 4444444444 4444444444 4455555555 5 5555554444 4444444444 4444444444 4444444444",
"5555565656 5655565656 6566666667 6677777777 7 7777776766 6666665656 5656565655 5656565555",
"8989a9a9a9 a9a9aa9a9a a9aabababa baabbbbbbb b bbbbbbabab abaaa9a9a9 a9a9a9a9a9 a9a9a9a989",

"cdcdedcded cdcecdedcd edcdecdedc dedcededed e dededecded cdedcdecdc dcdecdcedc decdcdedcd",
"fhgfigegfh egifhfgehg fihgfhgifg ehifhgihgf i fghighfigh egfihgfeih gfhgihfgeh igfhigfgih",
"gihgjhgigh fihgigfhig hjgighhjig fijhgihjig j gihjgfihig hgfjigheih ghjgihgfih jgfhigihjg",
"fhigihfgie gfhighfige hfigfhgigf hgjigfhiig h gifhgfigfh geifhgfehi gfgihfgfeg hgifhgfgie",
"cbdcfgcedb cfbcecbedc dbcfcbedcb efcdcfedeb c bedecfdcbe cdbfcebcdb ecbfcdebcf dcbecfcdbc",

"8a9a89a9a8 9a8a9a89a9 a8a9a89a9a ab9a8a9aab a baa9a8a9ba a9a89a8a9a 89a9a8a9a8 9a89a9a89a",
"7878787878 7878788888 8a8a8a8a98 a89a89a989 a 989a98a89a 8a98a8a8a8 8887878787 8787878787",
"9a9a9aa9ab bbcbbaabba ababaababa baabaababa a ababaababa bababaabab baabbcbbba ba9aa9a9a9",
"bcbdcefgfh ghihiihghh ghhgghfefg hhgfefghhi h ihhgfefghg hfefggghhi hihigfefgg dcbdcbcbcb",
"3434343434 3434343434 4545454545 4545454545 4 5454545454 5454545454 4343434343 4343434343"];
const panels = [
 [rawNoDoxSeATAC,rawNoDoxMACS2,rawNoDoxNucleoATAC],
 [raw12hSeATAC,raw12hMACS2,raw12hNucleoATAC],
 [estNoDoxSeATAC,estNoDoxMACS2,estNoDoxNucleoATAC],
 [est12hSeATAC,est12hMACS2,est12hNucleoATAC]
];
const COLS=81, ROWS=33, STEPS=20;
const distanceLabels = []; for(let i=0;i<COLS;i++) distanceLabels.push(String(-320+8*i));
const fragmentLabels = []; for(let i=0;i<ROWS;i++) fragmentLabels.push(String(20*i));

// ---- layout ----
const F='"Liberation Sans",Arial,sans-serif';
const FONT=29;
const rowTop=[568,866,1248,1546], rowH=[255,253,255,254];
const colLeft=[[175,550,922],[176,551,923],[175,550,922],[175,551,923]];
const cellW=255;
const grids=[],xAxes=[],yAxes=[],series=[],gfx=[];
function T(x,y,text,size,bold,align,color,rot){
  gfx.push({type:'text',x,y,rotation:rot||0,silent:true,z:50,style:{text:String(text),font:(bold?'bold ':'')+size+'px '+F,fill:color||'#000',align:align||'center',verticalAlign:'middle'}});
}
panels.forEach((rowPanels,r)=>rowPanels.forEach((rows,c)=>{
  const g=grids.length;
  grids.push({left:colLeft[r][c],top:rowTop[r],width:cellW,height:rowH[r]});
  xAxes.push({gridIndex:g,type:'category',data:distanceLabels,boundaryGap:true,axisLine:{show:false},axisTick:{show:false},splitLine:{show:false},
    axisLabel:{interval:(i)=>i===0||i===40||i===80,formatter:(v)=>Number(v)>0?'+'+v:v,fontSize:FONT,color:'#000',fontFamily:F,margin:2,alignMinLabel:'left',alignMaxLabel:'right',hideOverlap:false}});
  yAxes.push({gridIndex:g,type:'category',data:fragmentLabels,axisLine:{show:false},axisTick:{show:false},splitLine:{show:false},
    axisLabel:{interval:(i)=>i%10===0,fontSize:FONT,color:'#000',fontFamily:F,margin:13,padding:[0,0,6,0],hideOverlap:false}});
  const max=(r<2?rawMax:estMax)[c];
  const data=[];
  // listed rows sit directly above the 3 empty lowest rows
  rows.map(s=>s.replace(/ /g,'')).slice(-30).reverse().forEach((s,k)=>{
    for(let i=0;i<COLS;i++) data.push([i,k+3,parseInt(s[i%s.length],36)/STEPS*max]);
  });
  for(let y=0;y<3;y++)for(let i=0;i<COLS;i++)data.push([i,y,0]);
  series.push({type:'heatmap',xAxisIndex:g,yAxisIndex:g,data,progressive:0,emphasis:{disabled:true},silent:true,
    markLine:{silent:true,symbol:'none',animation:false,label:{show:false},lineStyle:{color:'#f4f0b0',type:[2,6],width:1.5,opacity:0.95},data:[{xAxis:40}]}});
  T(colLeft[r][c]+7,rowTop[r]+19,peakCounts[c],28.5,false,'left','#ffff33');
}));
// colour bars
const vm=[];
const rawBarLeft=[210,612,992], estBarLeft=[219,621,1001];
const rawZero=[198,600,980], estZero=[206,608,987];
const rawText=[348,750,1129], estText=[364,764,1145];
for(let c=0;c<3;c++){
  const common={type:'continuous',orient:'horizontal',min:0,calculable:false,hoverLink:false,itemWidth:26,itemHeight:130,text:null,padding:0,realtime:false,inRange:{color:['#0000ff','#ffffff','#ff0000']}};
  vm.push(Object.assign({},common,{max:rawMax[c],seriesIndex:[c,c+3],left:rawBarLeft[c],top:1159}));
  vm.push(Object.assign({},common,{max:estMax[c],seriesIndex:[c+6,c+9],left:estBarLeft[c],top:1838}));
  T(rawZero[c],1172,'0',FONT); T(rawText[c],1172,rawMaxLabels[c],FONT,false,'left');
  T(estZero[c],1851,'0',FONT); T(estText[c],1851,estMaxLabels[c],FONT,false,'left');
}
T(133,1172,'Raw',FONT); T(140,1850,'Est.',FONT);
// Venn circles through hidden scatter grids
const vennColors=['#008b8b','#f08080','#a020f0'];
[[143,[122,243,182]],[944,[122,243,183]]].forEach(([left,xs])=>{
  const g=grids.length;
  grids.push({left,top:61,width:365,height:351});
  xAxes.push({gridIndex:g,type:'value',min:0,max:365,show:false});
  yAxes.push({gridIndex:g,type:'value',min:0,max:351,inverse:true,show:false});
  series.push({type:'scatter',xAxisIndex:g,yAxisIndex:g,symbol:'circle',symbolSize:246,clip:false,silent:true,
    data:[[xs[0],123],[xs[1],123],[xs[2],228]].map((v,i)=>({value:v,itemStyle:{color:vennColors[i],opacity:0.5}}))});
});
// bars
const barSets=[[ebsSeATAC,ebsNucleoATAC,ebsMACS2],[mefsSeATAC,mefsNucleoATAC,mefsMACS2]];
const barColors=['#00cdcd','#a020f0','#f08080'], barNames=['SeATAC','NucleoATAC','MACS2'];
const panelLeft=[480,801], panelW=[316,314], panelMin=[-0.31,-0.34], panelMax=[6.94,6.86];
barSets.forEach((set,p)=>{
  let g=grids.length;
  grids.push({left:panelLeft[p],top:1988,width:panelW[p],height:366});
  xAxes.push({gridIndex:g,type:'value',min:panelMin[p],max:panelMax[p],show:false});
  yAxes.push({gridIndex:g,type:'category',inverse:true,data:terms,show:p===0,axisLine:{show:false},axisTick:{show:false},
    axisLabel:{fontSize:28.5,fontWeight:'bold',color:'#000',fontFamily:F,lineHeight:36,margin:31,align:'right',padding:[0,0,8,0],interval:0}});
  set.forEach((vals,i)=>series.push({type:'bar',name:barNames[i],xAxisIndex:g,yAxisIndex:g,data:vals,barWidth:22,barGap:0,silent:true,itemStyle:{color:barColors[i]}}));
  g=grids.length;
  grids.push({left:panelLeft[p],top:1982,width:panelW[p],height:380});
  xAxes.push({gridIndex:g,type:'value',min:panelMin[p],max:panelMax[p],splitLine:{show:false},axisLine:{show:true,onZero:false,lineStyle:{color:'#8a8a8a',width:2}},
    axisTick:{show:true,length:3,customValues:pTickValues,lineStyle:{color:'#666'}},
    axisLabel:{customValues:pTickValues,formatter:(v)=>pTickLabels[pTickValues.indexOf(v)],fontSize:FONT,color:'#000',fontFamily:F,margin:6,hideOverlap:false}});
  yAxes.push({gridIndex:g,type:'value',min:0,max:1,splitLine:{show:false},axisTick:{show:false},axisLabel:{show:false},axisLine:{show:p===0,onZero:false,lineStyle:{color:'#8a8a8a',width:1.5}}});
  series.push({type:'line',xAxisIndex:g,yAxisIndex:g,data:[[pThreshold,0],[pThreshold,1]],symbol:'none',silent:true,z:5,lineStyle:{color:'#333',type:[4,3],width:1}});
});
// text
T(0,22,'a',52,true,'left'); T(755,22,'b',52,true,'left'); T(0,498,'c',52,true,'left'); T(0,1965,'d',52,true,'left');
T(327,27,'MEFs',35,true); T(1128,27,'EBs',35,true);
function venn(v,pos){['seatac','seMacs','macs2','all','seNuc','macNuc','nucleo'].forEach((k,i)=>T(pos[i][0],pos[i][1],v[k],28.5));}
venn(vennMEFs,[[215,157],[323,128],[444,157],[323,215],[248.5,263],[394,263],[323.5,345]]);
venn(vennEBs,[[1016,157],[1123,128],[1243,157],[1123,215],[1049,263],[1195,263],[1123,345]]);
[[78.6,569,332],[878,1369,1132]].forEach(a=>{T(a[0],128,'SeATAC',29,true);T(a[1],128,'MACS2',29,true);T(a[2],433,'NucleoATAC',29,true);});
[[304,'SeATAC'],[681,'MACS2'],[1057,'NucleoATAC']].forEach(a=>{T(a[0],499,a[1],35,true);T(a[0],544,'only',35,true);});
[[695,'No'],[735,'Dox'],[979,'12h'],[1373,'No'],[1415,'Dox'],[1659,'12h']].forEach(a=>T(1250,a[0],a[1],35,true));
T(1347,846,'Raw Counts',35,true,'center','#000',-Math.PI/2);
T(1347,1539,'Estimated Counts',35,true,'center','#000',-Math.PI/2);
gfx.push({type:'line',silent:true,shape:{x1:1317,y1:617,x2:1317,y2:1074},style:{stroke:'#000',lineWidth:3.5}});
gfx.push({type:'line',silent:true,shape:{x1:1317,y1:1308,x2:1317,y2:1765},style:{stroke:'#000',lineWidth:3.5}});
T(66,1258,'Fragment size(bp)',31.5,true,'center','#000',Math.PI/2);
T(712,1210,'Distance to Etv2 motif (bp)',35,true); T(712,1887,'Distance to Etv2 motif (bp)',35,true);
T(564,1966,'EBs',28,true); T(917,1966,'MEFs',28,true); T(808,2427,'Adjusted p-Value',35,true);

const chart=echarts.init(document.getElementById('c'),null,{renderer:'canvas'});
chart.setOption({animation:false,backgroundColor:'#fff',textStyle:{fontFamily:F},
  grid:grids,xAxis:xAxes,yAxis:yAxes,series,visualMap:vm,graphic:{elements:gfx},
  legend:{orient:'vertical',left:1061,top:2126,itemWidth:32,itemHeight:32,itemGap:11,icon:'rect',selectedMode:false,data:barNames,textStyle:{fontSize:FONT,color:'#000',fontFamily:F,padding:[0,0,0,6]}}});
</script></body></html>
